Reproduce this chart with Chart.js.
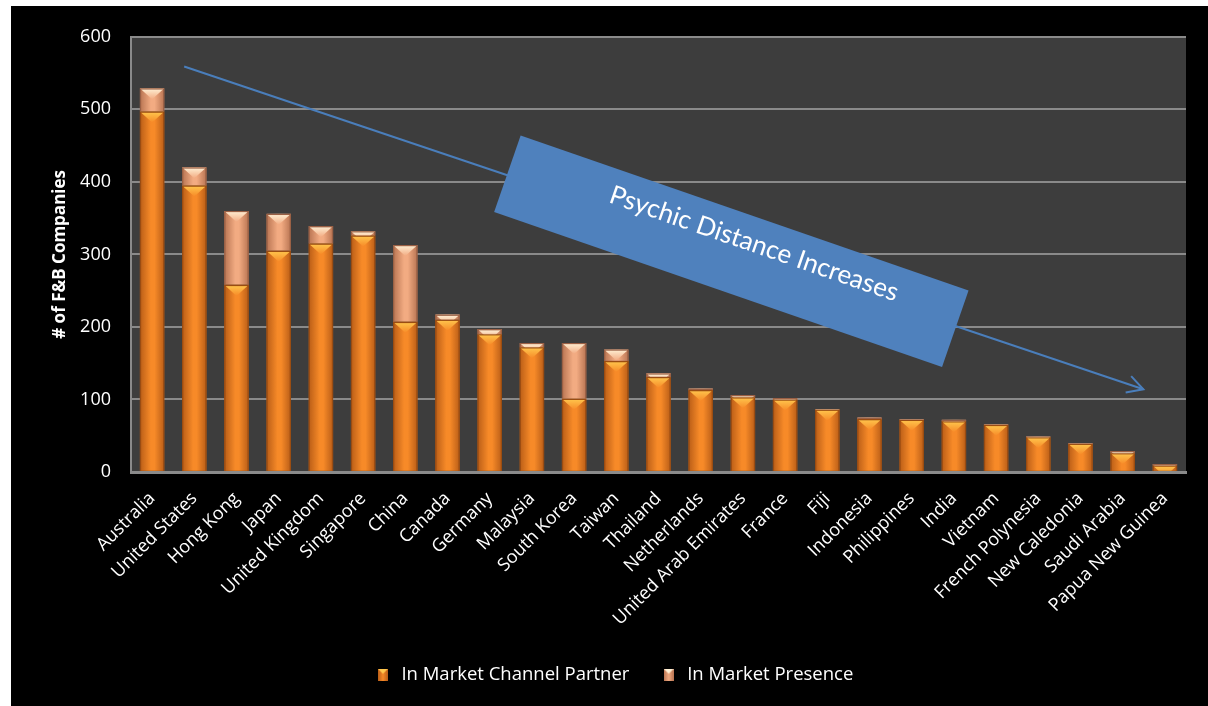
<!DOCTYPE html>
<html>
<head>
<meta charset="utf-8">
<script src="https://cdn.jsdelivr.net/npm/chart.js@4/dist/chart.umd.min.js"></script>
<style>
  html, body { margin: 0; padding: 0; background: #ffffff; }
  #wrap { position: absolute; left: 11px; top: 6px; width: 1197px; height: 700px; background: #000; }
</style>
</head>
<body>
<div id="wrap"><canvas id="fb-chart" width="1197" height="700"></canvas></div>
<script>
const countries = ['Australia', 'United States', 'Hong Kong', 'Japan', 'United Kingdom', 'Singapore', 'China',
    'Canada', 'Germany', 'Malaysia', 'South Korea', 'Taiwan', 'Thailand', 'Netherlands', 'United Arab Emirates',
    'France', 'Fiji', 'Indonesia', 'Philippines', 'India', 'Vietnam', 'French Polynesia', 'New Caledonia',
    'Saudi Arabia', 'Papua New Guinea'];
const channelPartner = [497, 395, 258, 305, 315, 326, 207, 210, 190, 172, 101, 153, 131, 113, 103, 100, 86, 73, 72, 70, 65, 48, 39, 26, 9];
const marketPresence = [32, 25, 102, 51, 24, 6, 106, 7, 7, 6, 77, 16, 5, 2, 3, 2, 1, 2, 1, 2, 1, 1, 1, 3, 2];
const yTicks = [0, 100, 200, 300, 400, 500, 600];

const FONT = '"Open Sans", Lato, sans-serif';
const BAR_PCT = 0.58;
const PLOT_BOTTOM = 466;

// colour sets for the bevelled bars: edge, centre, top cap
const orange = { edge: '#b95d17', mid: '#f78a28', cap: '#ffc84e', line: '#9a4c12' };
const salmon = { edge: '#b87452', mid: '#f2ab82', cap: '#fff1d6', line: '#9a6045' };

function barGradient(ctx, pal) {
    const chart = ctx.chart;
    const xs = chart.scales.x;
    if (!xs || !chart.chartArea) return pal.mid;
    const cx = xs.getPixelForValue(ctx.dataIndex);
    const w = xs.width / countries.length * BAR_PCT;
    const g = chart.ctx.createLinearGradient(cx - w / 2, 0, cx + w / 2, 0);
    g.addColorStop(0, pal.edge);
    g.addColorStop(0.45, pal.mid);
    g.addColorStop(0.6, pal.mid);
    g.addColorStop(1, pal.edge);
    return g;
}

// small legend swatches in the same style as the bars
function swatch(pal) {
    const c = document.createElement('canvas');
    c.width = 10; c.height = 12;
    const x = c.getContext('2d');
    const g = x.createLinearGradient(0, 0, 10, 0);
    g.addColorStop(0, pal.edge); g.addColorStop(0.5, pal.mid); g.addColorStop(1, pal.edge);
    x.fillStyle = g; x.fillRect(0, 0, 10, 12);
    x.fillStyle = pal.cap;
    x.beginPath(); x.moveTo(0, 0); x.lineTo(10, 0); x.lineTo(5, 5); x.closePath(); x.fill();
    return c;
}
const swatches = [swatch(orange), swatch(salmon)];

const plotBackground = {
    id: 'plotBackground',
    beforeDraw(chart) {
        const { ctx, chartArea: a } = chart;
        ctx.save();
        ctx.fillStyle = '#000';
        ctx.fillRect(0, 0, chart.width, chart.height);
        ctx.fillStyle = '#3d3d3d';
        ctx.fillRect(a.left, a.top, a.right - a.left, a.bottom - a.top);
        ctx.restore();
    }
};

// centre the legend under the plot area rather than the whole canvas
const legendNudge = {
    id: 'legendNudge',
    afterLayout(chart) {
        if (!chart.legend) return;
        chart.legend.left += 15;
        chart.legend.right += 15;
    }
};

// pyramid caps on top of each stacked segment
const bevelCaps = {
    id: 'bevelCaps',
    afterDatasetsDraw(chart) {
        const ctx = chart.ctx;
        [orange, salmon].forEach((pal, di) => {
            chart.getDatasetMeta(di).data.forEach(bar => {
                const top = Math.min(bar.y, bar.base);
                const h = Math.abs(bar.base - bar.y);
                const l = bar.x - bar.width / 2;
                ctx.save();
                ctx.beginPath();
                ctx.rect(l, top, bar.width, h);
                ctx.clip();
                const capH = bar.width * 0.45;
                const g = ctx.createLinearGradient(0, top, 0, top + capH);
                g.addColorStop(0, pal.cap);
                g.addColorStop(1, pal.mid);
                ctx.fillStyle = g;
                ctx.beginPath();
                ctx.moveTo(l, top);
                ctx.lineTo(l + bar.width, top);
                ctx.lineTo(bar.x, top + capH);
                ctx.closePath();
                ctx.fill();
                ctx.strokeStyle = pal.line;
                ctx.lineWidth = 1.5;
                ctx.strokeRect(l + 0.5, top + 0.5, bar.width - 1, h);
                ctx.restore();
            });
        });
    }
};

// trend arrow and rotated callout, placed in data units
const arrowStart = [0.76, 559];
const arrowEnd = [23.49, 114];
const calloutCenter = [13.73, 305];
const calloutText = 'Psychic Distance Increases';

const distanceCallout = {
    id: 'distanceCallout',
    afterDatasetsDraw(chart) {
        const { ctx, scales: { x, y } } = chart;
        const x1 = x.getPixelForValue(arrowStart[0]), y1 = y.getPixelForValue(arrowStart[1]);
        const x2 = x.getPixelForValue(arrowEnd[0]), y2 = y.getPixelForValue(arrowEnd[1]);
        const ang = Math.atan2(y2 - y1, x2 - x1);
        ctx.save();
        ctx.strokeStyle = '#4a7ebb';
        ctx.lineWidth = 2;
        ctx.beginPath();
        ctx.moveTo(x1, y1);
        ctx.lineTo(x2, y2);
        ctx.stroke();
        ctx.beginPath();
        ctx.moveTo(x2 - 18 * Math.cos(ang - 0.5), y2 - 18 * Math.sin(ang - 0.5));
        ctx.lineTo(x2, y2);
        ctx.lineTo(x2 - 18 * Math.cos(ang + 0.5), y2 - 18 * Math.sin(ang + 0.5));
        ctx.stroke();

        const cx = x.getPixelForValue(calloutCenter[0]);
        const cy = y.getPixelForValue(calloutCenter[1]);
        ctx.translate(cx, cy);
        ctx.rotate(19.1 * Math.PI / 180);
        ctx.fillStyle = '#4f81bd';
        ctx.fillRect(-237, -40, 474, 81);
        ctx.fillStyle = '#ffffff';
        ctx.font = '26px Lato, sans-serif';
        ctx.textAlign = 'center';
        ctx.textBaseline = 'middle';
        ctx.fillText(calloutText, 19, -14);
        ctx.restore();
    }
};

new Chart(document.getElementById('fb-chart'), {
    type: 'bar',
    data: {
        labels: countries,
        datasets: [
            {
                label: 'In Market Channel Partner',
                data: channelPartner,
                backgroundColor: ctx => barGradient(ctx, orange),
                barPercentage: BAR_PCT,
                categoryPercentage: 1
            },
            {
                label: 'In Market Presence',
                data: marketPresence,
                backgroundColor: ctx => barGradient(ctx, salmon),
                barPercentage: BAR_PCT,
                categoryPercentage: 1
            }
        ]
    },
    options: {
        responsive: false,
        animation: false,
        layout: { padding: { top: 30, right: 22, bottom: 12, left: 0 } },
        plugins: {
            tooltip: { enabled: false },
            legend: {
                position: 'bottom',
                labels: {
                    color: '#ffffff',
                    font: { family: FONT, size: 18.5 },
                    usePointStyle: true,
                    padding: 30,
                    generateLabels: chart => chart.data.datasets.map((ds, i) => ({
                        text: ds.label,
                        fontColor: '#ffffff',
                        pointStyle: swatches[i],
                        fillStyle: 'transparent',
                        strokeStyle: 'transparent',
                        lineWidth: 0,
                        hidden: false,
                        datasetIndex: i
                    }))
                }
            }
        },
        scales: {
            x: {
                stacked: true,
                afterFit: scale => {
                    const legendH = scale.chart.legend ? scale.chart.legend.height : 50;
                    scale.height = 700 - 12 - legendH - PLOT_BOTTOM;
                },
                grid: { display: false },
                border: { color: '#8a8a8a', width: 3 },
                ticks: {
                    color: '#ffffff',
                    font: { family: FONT, size: 18 },
                    minRotation: 45,
                    maxRotation: 45,
                    autoSkip: false,
                    padding: 8
                }
            },
            y: {
                stacked: true,
                min: 0,
                max: 600,
                afterFit: scale => { scale.width = 120; },
                afterBuildTicks: scale => { scale.ticks = yTicks.map(v => ({ value: v })); },
                grid: { color: '#8a8a8a', lineWidth: 2, drawTicks: false },
                border: { color: '#8a8a8a', width: 2 },
                ticks: {
                    color: '#ffffff',
                    font: { family: FONT, size: 18 },
                    padding: 20
                },
                title: {
                    display: true,
                    text: '# of F&B Companies',
                    color: '#ffffff',
                    font: { family: FONT, size: 17, weight: 'bold' },
                    padding: { top: 39, bottom: 0 }
                }
            }
        }
    },
    plugins: [plotBackground, legendNudge, bevelCaps, distanceCallout]
});
</script>
</body>
</html>
